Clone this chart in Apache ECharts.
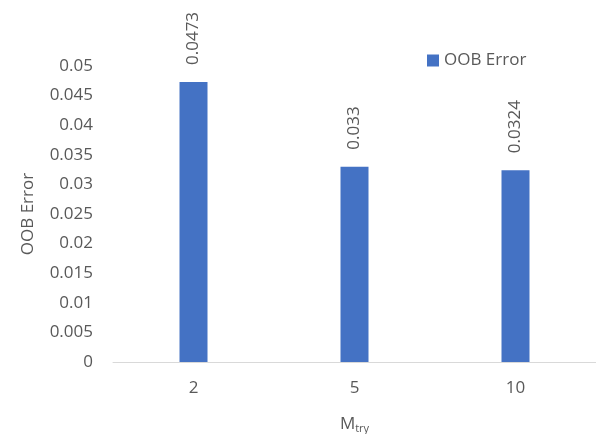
<!DOCTYPE html>
<html>
<head>
<meta charset="utf-8">
<script src="https://cdn.jsdelivr.net/npm/echarts@6/dist/echarts.min.js"></script>
<style>html,body{margin:0;padding:0;background:#fff}#c{width:596px;height:434px}</style>
</head>
<body>
<div id="c"></div>
<script>
const categories = ['2', '5', '10'];
const oobError = [0.0473, 0.033, 0.0324];
const seriesName = 'OOB Error';
const yTicks = { min: 0, max: 0.05, interval: 0.005 };

const FONT = 'Open Sans';
const GRAY = '#595959';
const FS = 17;
const chart = echarts.init(document.getElementById('c'));
chart.setOption({
  animation: false,
  textStyle: { fontFamily: FONT },
  legend: {
    data: [seriesName],
    left: 422, top: 47,
    itemWidth: 12, itemHeight: 12, itemGap: 6,
    icon: 'rect',
    textStyle: { fontFamily: FONT, fontSize: FS, color: GRAY }
  },
  grid: { left: 113, right: 0, top: 66, bottom: 72, outerBoundsMode: 'none', containLabel: false },
  xAxis: {
    type: 'category',
    data: categories,
    name: '{m|M}{s|try}',
    nameLocation: 'middle',
    nameGap: 52,
    nameTextStyle: {
      rich: {
        m: { fontFamily: FONT, fontSize: FS, color: GRAY },
        s: { fontFamily: FONT, fontSize: 11, color: GRAY, verticalAlign: 'bottom', padding: [9, 0, 0, 0] }
      }
    },
    axisLine: { lineStyle: { color: '#d9d9d9', width: 1 } },
    axisTick: { show: false },
    axisLabel: { fontFamily: FONT, fontSize: FS, color: GRAY, margin: 18 }
  },
  yAxis: {
    type: 'value',
    min: yTicks.min, max: yTicks.max, interval: yTicks.interval,
    name: 'OOB Error',
    nameLocation: 'middle',
    nameGap: 76,
    nameTextStyle: { fontFamily: FONT, fontSize: FS, color: GRAY },
    splitLine: { show: false },
    axisLine: { show: false },
    axisTick: { show: false },
    axisLabel: { fontFamily: FONT, fontSize: FS, color: GRAY, margin: 20 }
  },
  series: [{
    name: seriesName,
    type: 'bar',
    data: oobError,
    barWidth: 28,
    itemStyle: { color: '#4472C4' },
    label: {
      show: true,
      position: 'top',
      rotate: 90,
      align: 'left',
      verticalAlign: 'middle',
      distance: 17,
      fontFamily: FONT, fontSize: FS, color: GRAY
    }
  }]
});
</script>
</body>
</html>
